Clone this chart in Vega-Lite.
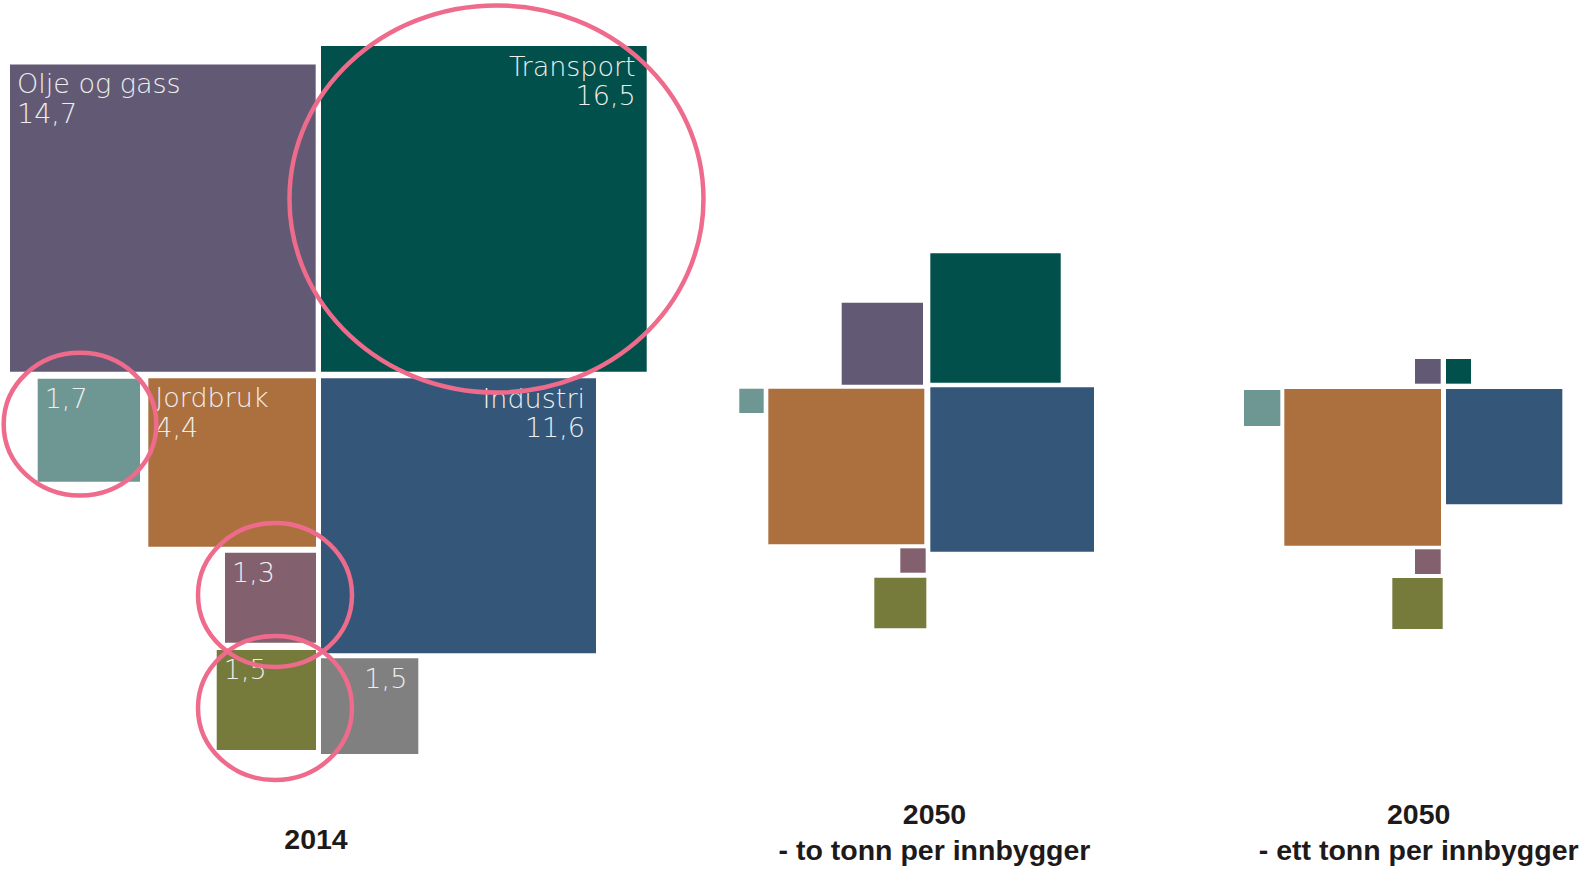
{
  "$schema": "https://vega.github.io/schema/vega-lite/v6.json",
  "width": 1579,
  "height": 870,
  "autosize": {"type": "none"},
  "padding": 0,
  "background": "#ffffff",
  "config": {"view": {"stroke": null}},
  "datasets": {
    "squares": [
      {"panel": "2014", "sector": "Olje og gass", "value": 14.7, "x0": 0.125, "x1": 3.946, "y0": 0.805, "y1": 4.646, "label": "Olje og gass\n14,7", "side": "left"},
      {"panel": "2014", "sector": "Transport", "value": 16.5, "x0": 4.0125, "x1": 8.084, "y0": 0.575, "y1": 4.646, "label": "Transport\n16,5", "side": "right"},
      {"panel": "2014", "sector": "Industri", "value": 11.6, "x0": 4.0125, "x1": 7.45, "y0": 4.729, "y1": 8.166, "label": "Industri\n11,6", "side": "right"},
      {"panel": "2014", "sector": "Jordbruk", "value": 4.4, "x0": 1.854, "x1": 3.95, "y0": 4.729, "y1": 6.834, "label": "Jordbruk\n4,4", "side": "left"},
      {"panel": "2014", "sector": "Energiforsyning", "value": 1.7, "x0": 0.471, "x1": 1.75, "y0": 4.735, "y1": 6.021, "label": "1,7", "side": "left"},
      {"panel": "2014", "sector": "Oppvarming", "value": 1.3, "x0": 2.8125, "x1": 3.95, "y0": 6.909, "y1": 8.034, "label": "1,3", "side": "left"},
      {"panel": "2014", "sector": "Andre mobile kilder", "value": 1.5, "x0": 2.709, "x1": 3.95, "y0": 8.125, "y1": 9.375, "label": "1,5", "side": "left"},
      {"panel": "2014", "sector": "Annet", "value": 1.5, "x0": 4.0125, "x1": 5.229, "y0": 8.229, "y1": 9.425, "label": "1,5", "side": "right"},
      {"panel": "2050 to tonn", "sector": "Olje og gass", "value": 1.0, "x0": 10.521, "x1": 11.5375, "y0": 3.784, "y1": 4.809, "label": "", "side": "none"},
      {"panel": "2050 to tonn", "sector": "Transport", "value": 2.6, "x0": 11.629, "x1": 13.259, "y0": 3.166, "y1": 4.784, "label": "", "side": "none"},
      {"panel": "2050 to tonn", "sector": "Energiforsyning", "value": 0.1, "x0": 9.241, "x1": 9.546, "y0": 4.859, "y1": 5.1625, "label": "", "side": "none"},
      {"panel": "2050 to tonn", "sector": "Jordbruk", "value": 3.8, "x0": 9.604, "x1": 11.554, "y0": 4.859, "y1": 6.804, "label": "", "side": "none"},
      {"panel": "2050 to tonn", "sector": "Industri", "value": 4.2, "x0": 11.629, "x1": 13.675, "y0": 4.841, "y1": 6.896, "label": "", "side": "none"},
      {"panel": "2050 to tonn", "sector": "Oppvarming", "value": 0.1, "x0": 11.254, "x1": 11.571, "y0": 6.854, "y1": 7.159, "label": "", "side": "none"},
      {"panel": "2050 to tonn", "sector": "Andre mobile kilder", "value": 0.4, "x0": 10.929, "x1": 11.579, "y0": 7.221, "y1": 7.854, "label": "", "side": "none"},
      {"panel": "2050 ett tonn", "sector": "Olje og gass", "value": 0.1, "x0": 17.6875, "x1": 18.009, "y0": 4.4875, "y1": 4.796, "label": "", "side": "none"},
      {"panel": "2050 ett tonn", "sector": "Transport", "value": 0.1, "x0": 18.075, "x1": 18.3875, "y0": 4.4875, "y1": 4.796, "label": "", "side": "none"},
      {"panel": "2050 ett tonn", "sector": "Energiforsyning", "value": 0.2, "x0": 15.55, "x1": 16.004, "y0": 4.875, "y1": 5.325, "label": "", "side": "none"},
      {"panel": "2050 ett tonn", "sector": "Jordbruk", "value": 3.8, "x0": 16.054, "x1": 18.0125, "y0": 4.8625, "y1": 6.821, "label": "", "side": "none"},
      {"panel": "2050 ett tonn", "sector": "Industri", "value": 2.1, "x0": 18.075, "x1": 19.529, "y0": 4.8625, "y1": 6.304, "label": "", "side": "none"},
      {"panel": "2050 ett tonn", "sector": "Oppvarming", "value": 0.1, "x0": 17.6875, "x1": 18.009, "y0": 6.866, "y1": 7.175, "label": "", "side": "none"},
      {"panel": "2050 ett tonn", "sector": "Andre mobile kilder", "value": 0.4, "x0": 17.404, "x1": 18.034, "y0": 7.225, "y1": 7.8625, "label": "", "side": "none"}
    ],
    "rings": [
      {"target": "Transport", "cx": 6.206, "cy": 2.4875, "r": 2.5875},
      {"target": "1,7", "cx": 1.0, "cy": 5.3025, "r": 0.954},
      {"target": "1,3", "cx": 3.4375, "cy": 7.4375, "r": 0.9625},
      {"target": "1,5", "cx": 3.4375, "cy": 8.85, "r": 0.9625}
    ],
    "titles": [
      {"x": 3.95, "y": 10.616, "label": "2014"},
      {"x": 11.681, "y": 10.3, "label": "2050\n- to tonn per innbygger"},
      {"x": 17.734, "y": 10.3, "label": "2050\n- ett tonn per innbygger"}
    ]
  },
  "layer": [
    {
      "data": {"name": "squares"},
      "mark": {"type": "rect", "opacity": 1},
      "encoding": {
        "x": {"field": "x0", "type": "quantitative", "scale": {"domain": [0, 19.7375], "nice": false, "zero": false}, "axis": null},
        "x2": {"field": "x1"},
        "y": {"field": "y0", "type": "quantitative", "scale": {"domain": [0, 10.875], "nice": false, "zero": false, "reverse": true}, "axis": null},
        "y2": {"field": "y1"},
        "color": {
          "field": "sector", "type": "nominal", "legend": null,
          "scale": {
            "domain": ["Olje og gass", "Transport", "Industri", "Jordbruk", "Energiforsyning", "Oppvarming", "Andre mobile kilder", "Annet"],
            "range": ["#625a74", "#02504b", "#345779", "#ac703f", "#6e9794", "#83606e", "#767b3c", "#808080"]
          }
        }
      }
    },
    {
      "data": {"name": "squares"},
      "transform": [{"filter": "datum.side === 'left'"}],
      "mark": {"type": "text", "align": "left", "baseline": "alphabetic", "dx": 7, "dy": 29, "font": "DejaVu Sans", "fontWeight": 200, "fontSize": 27, "lineHeight": 30, "lineBreak": "\n", "fill": "#eeeeee"},
      "encoding": {
        "x": {"field": "x0", "type": "quantitative"},
        "y": {"field": "y0", "type": "quantitative"},
        "text": {"field": "label"}
      }
    },
    {
      "data": {"name": "squares"},
      "transform": [{"filter": "datum.side === 'right'"}],
      "mark": {"type": "text", "align": "right", "baseline": "alphabetic", "dx": -11, "dy": 30, "font": "DejaVu Sans", "fontWeight": 200, "fontSize": 27, "lineHeight": 29, "lineBreak": "\n", "fill": "#eeeeee"},
      "encoding": {
        "x": {"field": "x1", "type": "quantitative"},
        "y": {"field": "y0", "type": "quantitative"},
        "text": {"field": "label"}
      }
    },
    {
      "data": {"name": "rings"},
      "mark": {
        "type": "point", "filled": false, "opacity": 1, "stroke": "#ef6b8c", "strokeWidth": 4.5,
        "shape": "M 1 0 C 1 0.5164 0.5523 0.935 0 0.935 C -0.5523 0.935 -1 0.5164 -1 0 C -1 -0.5164 -0.5523 -0.935 0 -0.935 C 0.5523 -0.935 1 -0.5164 1 0 Z"
      },
      "encoding": {
        "x": {"field": "cx", "type": "quantitative"},
        "y": {"field": "cy", "type": "quantitative"},
        "size": {"field": "r", "type": "quantitative", "legend": null, "scale": {"type": "pow", "exponent": 2, "domain": [0, 1], "range": [0, 25600]}}
      }
    },
    {
      "data": {"name": "titles"},
      "mark": {"type": "text", "align": "center", "baseline": "alphabetic", "font": "Liberation Sans", "fontWeight": "bold", "fontSize": 28.5, "lineHeight": 36, "lineBreak": "\n", "fill": "#1e1a1a"},
      "encoding": {
        "x": {"field": "x", "type": "quantitative"},
        "y": {"field": "y", "type": "quantitative"},
        "text": {"field": "label"}
      }
    }
  ]
}
